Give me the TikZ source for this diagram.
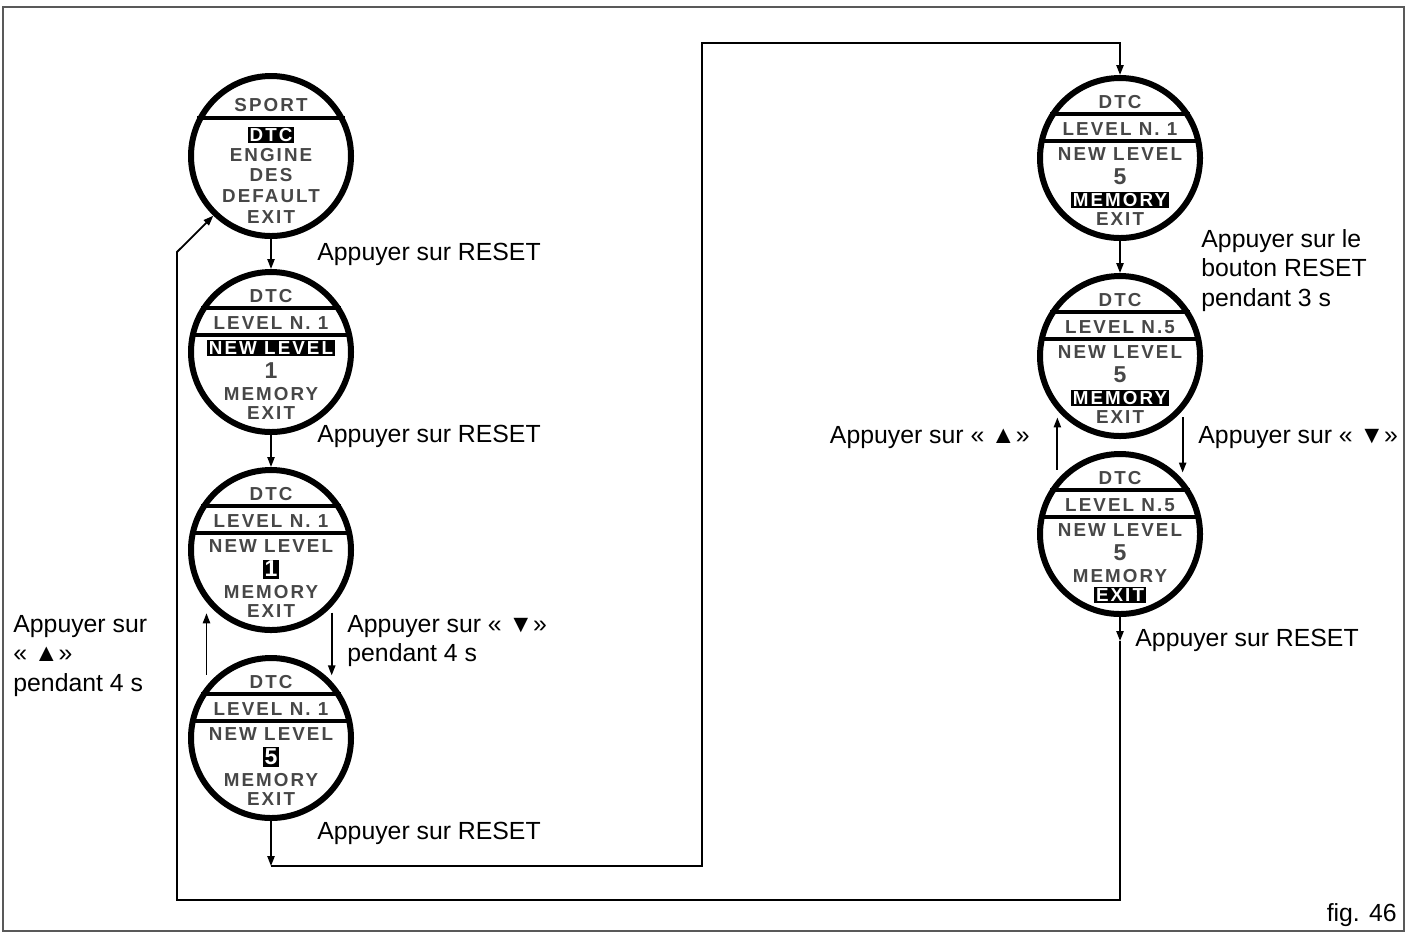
\documentclass[tikz,border=0pt]{standalone}
\usepackage{fontspec}
\setmainfont{Liberation Sans}
\newfontfamily\lcdfont[LetterSpace=11]{Liberation Sans}
\usetikzlibrary{positioning,arrows.meta}

\begin{document}
\begin{tikzpicture}[
    x=0.5pt, y=-0.5pt,
    disp/.style={draw, circle, line width=3pt, minimum size=80pt, inner sep=0pt},
    chord/.style={line width=2pt},
    lcd/.style={font=\lcdfont\bfseries\fontsize{9.4}{9.4}\selectfont, text=black!72, inner sep=0.8pt},
    sel/.style={lcd, fill=black, text=white},
    big/.style={font=\lcdfont\bfseries\fontsize{11.5}{11.5}\selectfont},
    arr/.style={-{Triangle[length=5pt, width=3.6pt]}, line width=0.9pt},
    lbl/.style={font=\fontsize{12.4}{14.75}\selectfont, align=left, inner sep=0pt}
]
\useasboundingbox (0,0) rectangle (1406,934);
\draw[black!65, line width=0.9pt] (3,7) rectangle (1404,931);

% Main menu display
\node[disp] (d1) at (271,156) {};
\draw[chord] (d1.27) -- (d1.153);
\node[lcd] at (271,105) {SPORT};
\node[sel] at (271,135) {DTC};
\node[lcd] at (271,155) {ENGINE};
\node[lcd] at (271,175) {DES};
\node[lcd] at (271,196) {DEFAULT};
\node[lcd] at (271,217) {EXIT};

% DTC displays
\foreach \n/\cx/\cy/\lev/\num in {
    d2/271/352/LEVEL N. 1/1,
    d3/271/550/LEVEL N. 1/1,
    d4/271/738/LEVEL N. 1/5,
    r1/1120/158/LEVEL N. 1/5,
    r2/1120/356/LEVEL N.5/5,
    r3/1120/534/LEVEL N.5/5} {
  \node[disp] (\n) at (\cx,\cy) {};
  \draw[chord] (\n.32) -- (\n.148);
  \draw[chord] (\n.12) -- (\n.168);
  \node[lcd] at (\cx,\cy-56) {DTC};
  \node[lcd] at (\cx,\cy-29) {\lev};
  \node[lcd] at (\cx,\cy-4) {NEW LEVEL};
  \node[lcd, big] at (\cx,\cy+19) {\num};
  \node[lcd] at (\cx,\cy+42) {MEMORY};
  \node[lcd] at (\cx,\cy+61) {EXIT};
}

% Selected items
\node[sel] at (271,348) {NEW LEVEL};
\node[sel, big] at (271,569) {1};
\node[sel, big] at (271,757) {5};
\node[sel] at (1120,200) {MEMORY};
\node[sel] at (1120,398) {MEMORY};
\node[sel] at (1120,595) {EXIT};

% Labels
\node[lbl, anchor=north west] (t1) at (317,243) {Appuyer sur RESET};
\node[lbl, anchor=north west] (t2) at (317,425) {Appuyer sur RESET};
\node[lbl, anchor=north west] (t3) at (347,615) {Appuyer sur « ▼»\\pendant 4 s};
\node[lbl, anchor=north west] (t4) at (13,615) {Appuyer sur\\« ▲»\\pendant 4 s};
\node[lbl, anchor=north west] (t5) at (317,822) {Appuyer sur RESET};
\node[lbl, anchor=north west] (t6) at (1201,229) {Appuyer sur le\\bouton RESET\\pendant 3 s};
\node[lbl, anchor=north east] (t7) at (1030,426) {Appuyer sur « ▲»};
\node[lbl, anchor=north west] (t8) at (1198,426) {Appuyer sur « ▼»};
\node[lbl, anchor=north west] (t9) at (1135,629) {Appuyer sur RESET};
\node[lbl, anchor=north east] (fig) at (1397,903) {fig. 46};

% Corner points
\coordinate[below=22.5pt of d4] (lo);
\coordinate (hi) at (702,43);
\coordinate[below=12pt of r3] (mid);
\coordinate (bl) at (177,900);
\coordinate (up) at (177,252);

% Arrows
\draw[arr] (d1) -- (d2);
\draw[arr] (d2) -- (d3);
\draw[arr, shorten <=3pt, shorten >=3pt] (d3.-43) -- (d4.43);
\draw[arr, shorten <=5.5pt, shorten >=5.5pt] (d4.141) -- (d3.219);
\draw[arr] (d4) -- (lo);
\draw[arr] (lo) -| (hi) -| (r1);
\draw[arr] (r1) -- (r2);
\draw[arr, shorten <=3.5pt, shorten >=3.5pt] (r2.-41) -- (r3.41);
\draw[arr, shorten <=5pt, shorten >=3.5pt] (r3.139) -- (r2.221);
\draw[arr] (r3) -- (mid);
\draw[arr] (mid) |- (bl) -- (up) -- (d1.226);
\end{tikzpicture}
\end{document}
